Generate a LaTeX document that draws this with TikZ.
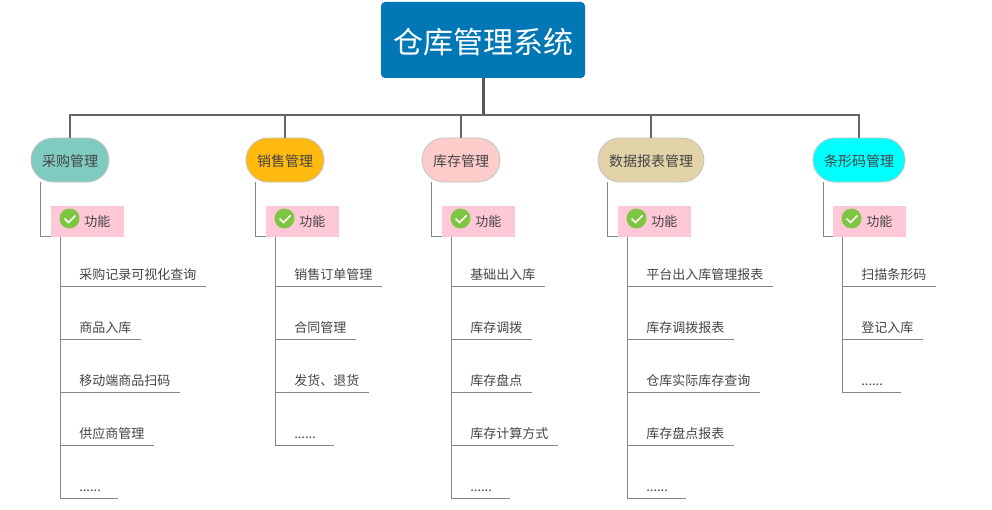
\documentclass[tikz,border=0pt]{standalone}
\usepackage{fontspec}
\setmainfont{Noto Sans CJK SC}
\usetikzlibrary{calc,shapes.misc}
\definecolor{rootblue}{HTML}{0277B5}
\definecolor{tealfill}{HTML}{80CBC0}
\definecolor{amberfill}{HTML}{FFB90F}
\definecolor{rosefill}{HTML}{FFCCCC}
\definecolor{sandfill}{HTML}{E3D3A8}
\definecolor{aquafill}{HTML}{00FFFF}
\definecolor{pinkbox}{HTML}{FFC8D6}
\definecolor{checkgreen}{HTML}{7CC644}
\definecolor{inktext}{HTML}{444444}
\tikzset{
	root/.style={draw=none,fill=rootblue,rounded corners=3pt,minimum width=153pt,minimum height=57pt,inner sep=0pt,text=white,text height=22pt,text depth=2pt,font=\fontsize{22.5}{24}\selectfont},
	branch/.style={rounded rectangle,draw=black!24,line width=0.6pt,minimum height=33pt,inner sep=0pt,text=inktext,text height=10.5pt,text depth=1pt,font=\fontsize{10.5}{12}\selectfont},
	func/.style={fill=pinkbox,minimum width=54.75pt,minimum height=23.25pt,inner sep=0pt},
	checkicon/.style={circle,fill=checkgreen,minimum size=15pt,inner sep=0pt,path picture={
		\draw[white!85!pink,line width=1.3pt] (path picture bounding box.center) ++(-5,0) -- ++(4,4) -- ++(7,-7);}},
	functext/.style={anchor=west,inner sep=0pt,xshift=-0.75pt,yshift=-0.75pt,text=inktext,font=\fontsize{9.75}{12}\selectfont},
	leaftext/.style={anchor=west,inner sep=0pt,xshift=-0.75pt,yshift=-0.75pt,text height=8.5pt,text depth=2pt,text=inktext,font=\fontsize{9.75}{12}\selectfont},
	thinline/.style={draw=black!48,line width=0.75pt},
	midline/.style={draw=black!60,line width=1.5pt},
	trunk/.style={draw=black!65,line width=2.25pt}
}
\begin{document}
\begin{tikzpicture}[x=0.75pt,y=-0.75pt]
	\useasboundingbox (0,0) rectangle (992,510);
	\node[root] (R) at (483,40) {仓库管理系统};
	\node[branch,fill=tealfill,minimum width=58.5pt] (B1) at (70,160) {采购管理};
	\node[branch,fill=amberfill,minimum width=58.5pt] (B2) at (285,160) {销售管理};
	\node[branch,fill=rosefill,minimum width=58.5pt] (B3) at (461,160) {库存管理};
	\node[branch,fill=sandfill,minimum width=79.5pt] (B4) at (651,160) {数据报表管理};
	\node[branch,fill=aquafill,minimum width=69pt] (B5) at (859,160) {条形码管理};
	% top lines
	\coordinate (J) at (483,115);
	\coordinate (H1) at (70,115);
	\coordinate (H2) at (285,115);
	\coordinate (H3) at (461,115);
	\coordinate (H4) at (651,115);
	\coordinate (H5) at (859,115);
	\draw[midline] (B1.north)--(H1)--(H5)--(B5.north);
	\draw[midline] (B2.north)--(H2);
	\draw[midline] (B3.north)--(H3);
	\draw[midline] (B4.north)--(H4);
	\draw[trunk] (R.south)--(J);
	% first column
	\node[func] (F1) at (87.5,221.5) {};
	\node[checkicon] (C1) at (69.5,218.5) {};
	\node[functext] (T1) at (85,221) {功能};
	\coordinate (U1) at (40,182);
	\coordinate (W1) at (40,236.5);
	\coordinate (V1) at (60.5,237);
	\draw[thinline] (U1)--(W1)--(W1-|F1.west);
	\coordinate (a1) at (60.5,286);
	\coordinate (a2) at (60.5,339);
	\coordinate (a3) at (60.5,392);
	\coordinate (a4) at (60.5,445);
	\coordinate (a5) at (60.5,498);
	\coordinate (e1) at (206,286);
	\coordinate (e2) at (141,339);
	\coordinate (e3) at (180,392);
	\coordinate (e4) at (154,445);
	\coordinate (e5) at (118,498);
	\draw[thinline] (V1)--(a5)--(e5);
	\draw[thinline] (a1)--(e1);
	\draw[thinline] (a2)--(e2);
	\draw[thinline] (a3)--(e3);
	\draw[thinline] (a4)--(e4);
	\node[leaftext] (l1) at (80,274) {采购记录可视化查询};
	\node[leaftext] (l2) at (80,327) {商品入库};
	\node[leaftext] (l3) at (80,380) {移动端商品扫码};
	\node[leaftext] (l4) at (80,433) {供应商管理};
	\node[leaftext] (l5) at (80,486) {......};
	% second column
	\node[func] (F2) at (302.5,221.5) {};
	\node[checkicon] (C2) at (284.5,218.5) {};
	\node[functext] (T2) at (300,221) {功能};
	\coordinate (U2) at (255,182);
	\coordinate (W2) at (255,236.5);
	\coordinate (V2) at (275.5,237);
	\draw[thinline] (U2)--(W2)--(W2-|F2.west);
	\coordinate (b1) at (275.5,286);
	\coordinate (b2) at (275.5,339);
	\coordinate (b3) at (275.5,392);
	\coordinate (b4) at (275.5,445);
	\coordinate (g1) at (382,286);
	\coordinate (g2) at (356,339);
	\coordinate (g3) at (369,392);
	\coordinate (g4) at (334,445);
	\draw[thinline] (V2)--(b4)--(g4);
	\draw[thinline] (b1)--(g1);
	\draw[thinline] (b2)--(g2);
	\draw[thinline] (b3)--(g3);
	\node[leaftext] (m1) at (295,274) {销售订单管理};
	\node[leaftext] (m2) at (295,327) {合同管理};
	\node[leaftext] (m3) at (295,380) {发货、退货};
	\node[leaftext] (m4) at (295,433) {......};
	% third column
	\node[func] (F3) at (478.5,221.5) {};
	\node[checkicon] (C3) at (460.5,218.5) {};
	\node[functext] (T3) at (476,221) {功能};
	\coordinate (U3) at (431,182);
	\coordinate (W3) at (431,236.5);
	\coordinate (V3) at (451.5,237);
	\draw[thinline] (U3)--(W3)--(W3-|F3.west);
	\coordinate (c1) at (451.5,286);
	\coordinate (c2) at (451.5,339);
	\coordinate (c3) at (451.5,392);
	\coordinate (c4) at (451.5,445);
	\coordinate (c5) at (451.5,498);
	\coordinate (h1) at (545,286);
	\coordinate (h2) at (532,339);
	\coordinate (h3) at (532,392);
	\coordinate (h4) at (558,445);
	\coordinate (h5) at (510,498);
	\draw[thinline] (V3)--(c5)--(h5);
	\draw[thinline] (c1)--(h1);
	\draw[thinline] (c2)--(h2);
	\draw[thinline] (c3)--(h3);
	\draw[thinline] (c4)--(h4);
	\node[leaftext] (n1) at (471,274) {基础出入库};
	\node[leaftext] (n2) at (471,327) {库存调拨};
	\node[leaftext] (n3) at (471,380) {库存盘点};
	\node[leaftext] (n4) at (471,433) {库存计算方式};
	\node[leaftext] (n5) at (471,486) {......};
	% fourth column
	\node[func] (F4) at (654.5,221.5) {};
	\node[checkicon] (C4) at (636.5,218.5) {};
	\node[functext] (T4) at (652,221) {功能};
	\coordinate (U4) at (607,182);
	\coordinate (W4) at (607,236.5);
	\coordinate (V4) at (627.5,237);
	\draw[thinline] (U4)--(W4)--(W4-|F4.west);
	\coordinate (d1) at (627.5,286);
	\coordinate (d2) at (627.5,339);
	\coordinate (d3) at (627.5,392);
	\coordinate (d4) at (627.5,445);
	\coordinate (d5) at (627.5,498);
	\coordinate (i1) at (773,286);
	\coordinate (i2) at (734,339);
	\coordinate (i3) at (760,392);
	\coordinate (i4) at (734,445);
	\coordinate (i5) at (686,498);
	\draw[thinline] (V4)--(d5)--(i5);
	\draw[thinline] (d1)--(i1);
	\draw[thinline] (d2)--(i2);
	\draw[thinline] (d3)--(i3);
	\draw[thinline] (d4)--(i4);
	\node[leaftext] (o1) at (647,274) {平台出入库管理报表};
	\node[leaftext] (o2) at (647,327) {库存调拨报表};
	\node[leaftext] (o3) at (647,380) {仓库实际库存查询};
	\node[leaftext] (o4) at (647,433) {库存盘点报表};
	\node[leaftext] (o5) at (647,486) {......};
	% fifth column
	\node[func] (F5) at (869.5,221.5) {};
	\node[checkicon] (C5) at (851.5,218.5) {};
	\node[functext] (T5) at (867,221) {功能};
	\coordinate (U5) at (823,182);
	\coordinate (W5) at (823,236.5);
	\coordinate (V5) at (842.5,237);
	\draw[thinline] (U5)--(W5)--(W5-|F5.west);
	\coordinate (k1) at (842.5,286);
	\coordinate (k2) at (842.5,339);
	\coordinate (k3) at (842.5,392);
	\coordinate (p1) at (936,286);
	\coordinate (p2) at (923,339);
	\coordinate (p3) at (901,392);
	\draw[thinline] (V5)--(k3)--(p3);
	\draw[thinline] (k1)--(p1);
	\draw[thinline] (k2)--(p2);
	\node[leaftext] (q1) at (862,274) {扫描条形码};
	\node[leaftext] (q2) at (862,327) {登记入库};
	\node[leaftext] (q3) at (862,380) {......};
\end{tikzpicture}
\end{document}
